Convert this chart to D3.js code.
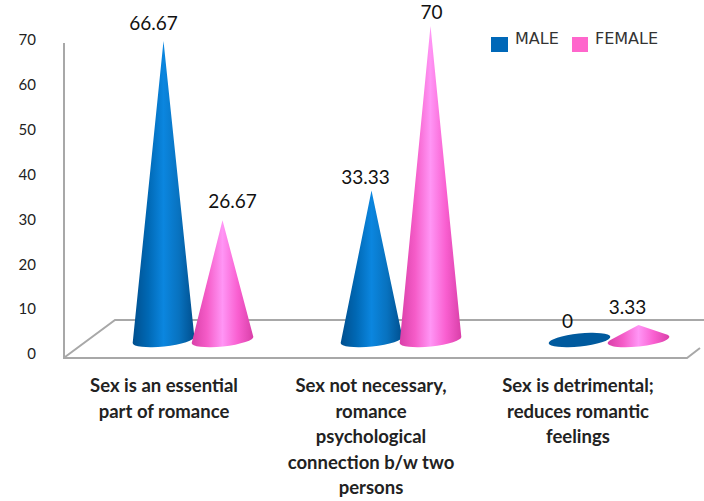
<!DOCTYPE html>
<html><head><meta charset="utf-8">
<script src="https://cdn.jsdelivr.net/npm/d3@7"></script>
<style>html,body{margin:0;padding:0;background:#fff}svg{display:block}</style>
</head><body><div id="c"></div>
<script>
const categories = [
  ["Sex is an essential","part of romance"],
  ["Sex not necessary,","romance","psychological","connection b/w two","persons"],
  ["Sex is detrimental;","reduces romantic","feelings"]
];
const seriesNames = ["MALE","FEMALE"];
const male = [66.67,33.33,0];
const female = [26.67,70,3.33];
const tickValues = [0,10,20,30,40,50,60,70];

const W=704,H=501;
const svg=d3.select("#c").append("svg").attr("width",W).attr("height",H);
const defs=svg.append("defs");
const grads=[
  ["g0",["#004f8e","#0068b4","#0b86df","#0872bf","#004f8e"]],
  ["g1",["#d93fa8","#f55cc8","#ff95f5","#f95fd0","#d93fa8"]]
];
grads.forEach(([id,cols])=>{
  const g=defs.append("linearGradient").attr("id",id).attr("x1",0).attr("x2",1).attr("y1",0).attr("y2",0);
  cols.forEach((c,i)=>g.append("stop").attr("offset",[0,.25,.5,.75,1][i]).attr("stop-color",c));
});
const solid=["#0068b8","#ff66cc"];
const font='Lato,sans-serif';

// scales
const yCone=d3.scaleLinear().domain([0,70]).range([340,26]);
const yTick=d3.scaleLinear().domain([0,70]).range([354,40]);
const xGroup=d3.scaleBand().domain(d3.range(categories.length)).range([89,713]);
const xSeries=d3.scaleBand().domain([0,1]).range([0,118]);
const cx=(i,s)=>xGroup(i)+xGroup.bandwidth()/2-59+xSeries(s)+xSeries.bandwidth()/2;

// floor and wall
const frame=svg.append("g").attr("fill","none").attr("stroke","#a8a8a8").attr("stroke-width",2);
frame.append("path").attr("d",d3.line()([[64,43],[64,358],[687,358],[700,348]]));
frame.append("path").attr("d",d3.line()([[65,357],[115,320],[704,320]]));

// y axis
const axis=d3.axisLeft(yTick).tickValues(tickValues).tickSize(0).tickPadding(0);
const ax=svg.append("g").attr("transform","translate(36,0)").call(axis);
ax.select(".domain").remove();
ax.selectAll("text").attr("font-family",font).attr("font-size",15).attr("fill","#222");

// cones
const A=31,B=6.5,TILT=-6*Math.PI/180;
function conePath(c,base,top){
  const rot=(x,y)=>[c+x*Math.cos(TILT)-y*Math.sin(TILT),base+x*Math.sin(TILT)+y*Math.cos(TILT)];
  const deg=TILT*180/Math.PI;
  const h=base-top;
  const L=rot(-A,0),R=rot(A,0);
  if(h<=B+0.01){
    return `M${L}A${A},${B},${deg},1,0,${R}A${A},${B},${deg},1,0,${L}Z`;
  }
  const ty=-B*B/h, tx=A*Math.sqrt(1-(B*B)/(h*h));
  const tl=rot(-tx,ty),tr=rot(tx,ty);
  return `M${c},${top}L${tl}A${A},${B},${deg},1,0,${tr}Z`;
}
const rows=categories.map((_,i)=>[[i,0,male[i]],[i,1,female[i]]]).flat();
svg.append("g").selectAll("path").data(rows).join("path")
  .attr("d",d=>conePath(cx(d[0],d[1]),yCone(0),yCone(d[2])))
  .attr("fill",d=>d[2]===0?"#005a9e":`url(#g${d[1]})`);

// value labels: nudges, in the order of rows
const labelNudge=[-10,10,-6,1,-12,-11];
const labelLift=[11,12,6,7,12,11];
svg.append("g").selectAll("text").data(rows).join("text")
  .attr("x",(d,i)=>cx(d[0],d[1])+labelNudge[i])
  .attr("y",(d,i)=>yCone(d[2])-labelLift[i])
  .attr("text-anchor","middle").attr("font-family",font).attr("font-size",19).attr("fill","#111")
  .text(d=>d[2]);

// category labels
const xLabel=d3.scalePoint().domain(d3.range(categories.length)).range([164,578]);
const lab=svg.append("g").selectAll("text").data(categories).join("text")
  .attr("text-anchor","middle").attr("font-family",font).attr("font-size",18.5).attr("font-weight",700).attr("fill","#222");
lab.each(function(lines,i){
  d3.select(this).selectAll("tspan").data(lines).join("tspan")
    .attr("x",xLabel(i)).attr("y",(d,j)=>392+j*25.5).text(d=>d);
});

// legend
const xLeg=d3.scalePoint().domain(seriesNames).range([491,572]);
const leg=svg.append("g").selectAll("g").data(seriesNames).join("g")
  .attr("transform",d=>`translate(${xLeg(d)},37)`);
leg.append("rect").attr("width",(d,i)=>i?16:17).attr("height",15).attr("fill",(d,i)=>solid[i]);
leg.append("text").attr("x",(d,i)=>i?23:24).attr("y",7).attr("font-family","'DejaVu Sans',sans-serif")
  .attr("font-size",16).attr("fill","#333").text(d=>d);
</script></body></html>
